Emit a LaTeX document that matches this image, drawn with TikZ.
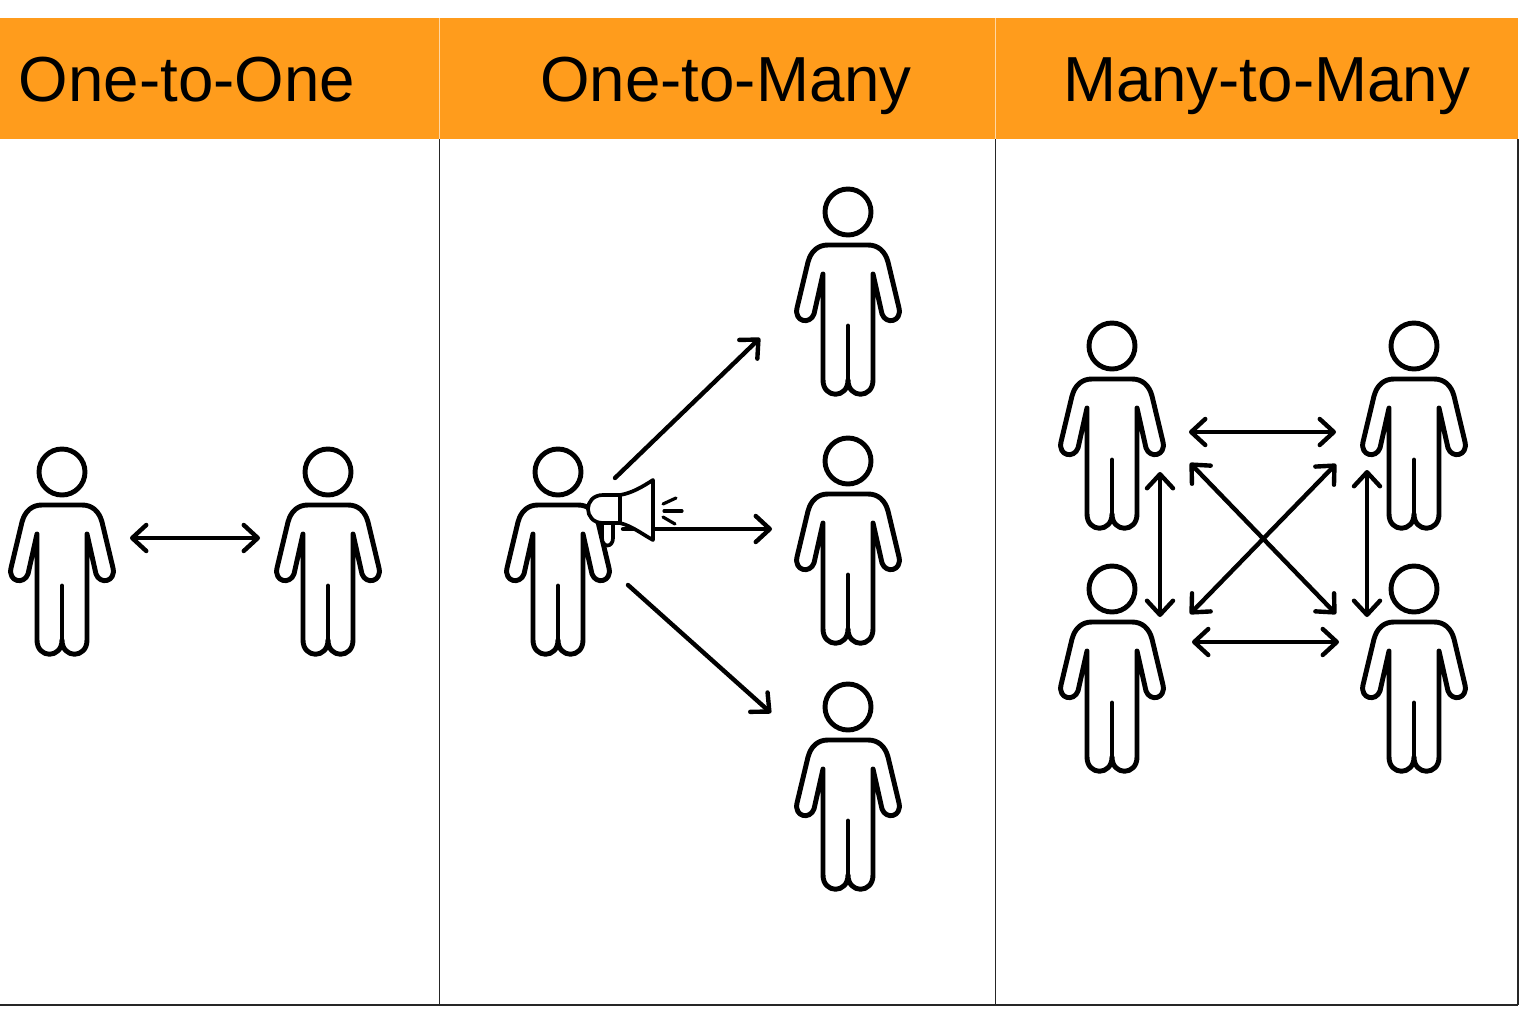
\documentclass[tikz,border=0pt]{standalone}
\usepackage{fontspec}
\setmainfont{Liberation Sans}
\usepackage{xcolor}
\usetikzlibrary{arrows.meta}
\definecolor{headerorange}{HTML}{FF9C1C}
\tikzset{
  headerlabel/.style={black, anchor=base, font=\fontsize{18.1}{18}\selectfont},
  barline/.style={line width=0.55pt, black!85},
  commarrow/.style={line width=1.25pt, black, line cap=round, {Straight Barb[round,length=4pt,width=7.4pt,line width=1.25pt]}-{Straight Barb[round,length=4pt,width=7.4pt,line width=1.25pt]}},
  sendarrow/.style={line width=1.25pt, black, line cap=round, -{Straight Barb[round,length=4pt,width=7.4pt,line width=1.25pt]}},
  person/.pic={
    \draw[line width=1.4pt, line join=round, line cap=round] (0,0) circle (23);
    % outline: left armpit, around the arm and shoulders, right arm, legs
    \draw[line width=1.4pt, line join=round, line cap=round]
      (-25,62) -- (-34,102) .. controls (-38,113) and (-54,110) .. (-51,96)
      -- (-40,50) .. controls (-37,39) and (-30,33) .. (-20,33) -- (20,33)
      .. controls (30,33) and (37,39) .. (40,50) -- (51,96)
      .. controls (54,110) and (38,113) .. (34,102) -- (25,62)
      -- (25,168) .. controls (25,187) and (0,187) .. (0,168)
      .. controls (0,187) and (-25,187) .. (-25,168) -- cycle;
    \draw[line width=1.4pt, line cap=round] (0,114) -- (0,168);
  }
}
\begin{document}
\begin{tikzpicture}[x=0.01cm, y=-0.01cm]
  \useasboundingbox (0,0) rectangle (1536,1024);

  % --- header band and the three columns ---
  \fill[headerorange] (0,18) rectangle (1518,139);
  \draw[white!60!headerorange, line width=0.3pt] (439.5,18) -- (439.5,139);
  \draw[white!60!headerorange, line width=0.3pt] (995.5,18) -- (995.5,139);
  \draw[barline] (439.5,139) -- (439.5,1005);
  \draw[barline] (995.5,139) -- (995.5,1005);
  \draw[barline] (1518,139) -- (1518,1005);
  \draw[barline] (0,1005) -- (1518,1005);

  \node[headerlabel] (oneone) at (187,101) {One-to-One};
  \node[headerlabel] (onemany) at (726,101) {One-to-Many};
  \node[headerlabel] (manymany) at (1266.5,101) {Many-to-Many};

  % --- people, by head centre ---
  \foreach \px/\py in {62/472, 328/472, 558/472, 848/212, 848/461, 848/707,
                       1112/346, 1414/346, 1112/589, 1414/589}
    \pic at (\px,\py) {person};

  % --- one-to-one ---
  \coordinate (aleft) at (130,538);
  \coordinate (aright) at (260,538);
  \draw[commarrow] (aleft) -- (aright);

  % --- one-to-many, drawn before the megaphone so it sits on top ---
  \coordinate (hornup) at (615,478);
  \coordinate (hornmid) at (623,529);
  \coordinate (horndown) at (628,585);
  \coordinate (topguy) at (760,338);
  \coordinate (midguy) at (772,529);
  \coordinate (lowguy) at (771,713);
  \draw[sendarrow] (hornup) -- (topguy);
  \draw[sendarrow] (hornmid) -- (midguy);
  \draw[sendarrow] (horndown) -- (lowguy);

  % --- megaphone: handle, body, cone, sound lines ---
  \draw[fill=white, line width=1.05pt, line join=round]
    (602,520) -- (602,538) .. controls (602,548) and (613,548) .. (613,538) -- (613,520) -- cycle;
  \draw[fill=white, line width=1.05pt, line join=round]
    (620,495) -- (603,495) .. controls (583,495) and (583,523) .. (603,523) -- (620,523) -- cycle;
  \draw[fill=white, line width=1.05pt, line join=round]
    (620,495) .. controls (632,493) and (642,487) .. (653,480) -- (653,540)
    .. controls (642,534) and (632,526) .. (620,523) -- cycle;
  \draw[line width=0.9pt, line cap=round] (663,504) -- (676,498);
  \draw[line width=0.9pt, line cap=round] (664,511) -- (682,511);
  \draw[line width=0.9pt, line cap=round] (663,517) -- (675,524);

  % --- many-to-many ---
  \coordinate (tl) at (1190,463);
  \coordinate (tr) at (1336,464);
  \coordinate (bl) at (1190,614);
  \coordinate (br) at (1336,614);
  \coordinate (topa) at (1189,432);
  \coordinate (topb) at (1336,432);
  \coordinate (lowa) at (1192,642);
  \coordinate (lowb) at (1339,642);
  \coordinate (lefta) at (1160,472);
  \coordinate (leftb) at (1160,617);
  \coordinate (righta) at (1367,470);
  \coordinate (rightb) at (1367,617);
  \draw[commarrow] (topa) -- (topb);
  \draw[commarrow] (lowa) -- (lowb);
  \draw[commarrow] (lefta) -- (leftb);
  \draw[commarrow] (righta) -- (rightb);
  \draw[commarrow] (tl) -- (br);
  \draw[commarrow] (bl) -- (tr);
\end{tikzpicture}
\end{document}
